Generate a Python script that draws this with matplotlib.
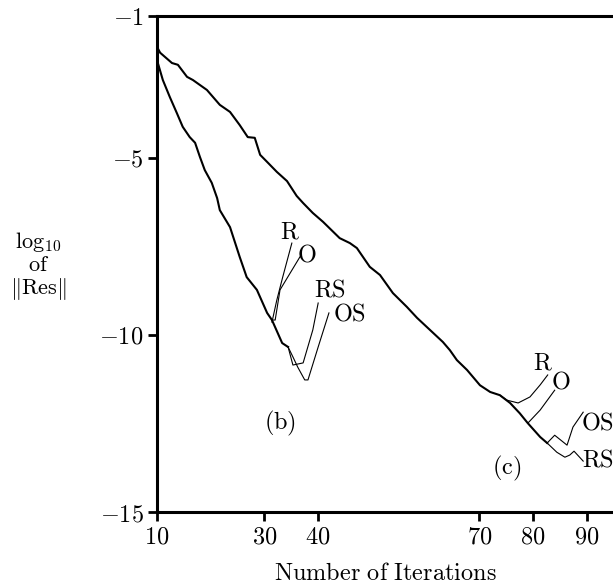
import matplotlib
matplotlib.use('Agg')
import matplotlib.pyplot as plt

plt.rcParams['mathtext.fontset'] = 'cm'
plt.rcParams['font.family'] = 'serif'

# slow curve (c): iterations vs log10 residual
it_slow = [10, 10.6, 12.8, 13.9, 15.6, 16.7, 19.3, 21.7, 23.6, 25.4, 26.9, 28.2, 29.2,
           30.5, 32.3, 34.2, 36.0, 37.2, 39.0, 40.9, 44.0, 45.9, 47.2, 49.6, 51.5, 53.9,
           56.5, 58.4, 60.8, 63.2, 64.5, 65.8, 67.7, 70.1, 72.0, 73.8, 75.7, 77.5, 79.0,
           81.3, 82.6]
res_slow = [-1.87, -2.04, -2.33, -2.38, -2.72, -2.81, -3.09, -3.51, -3.71, -4.08, -4.42,
            -4.44, -4.92, -5.12, -5.40, -5.66, -6.08, -6.28, -6.56, -6.81, -7.27, -7.41,
            -7.55, -8.08, -8.31, -8.82, -9.21, -9.52, -9.86, -10.20, -10.43, -10.71,
            -10.99, -11.42, -11.61, -11.70, -11.92, -12.21, -12.49, -12.88, -13.05]

# fast curve (b)
it_fast = [10, 11.1, 12.4, 13.7, 14.8, 16.1, 17.1, 18.0, 18.9, 20.2, 21.2, 21.7, 23.6,
           25.4, 26.7, 28.6, 30.5, 31.4, 33.3, 34.4]
res_fast = [-2.24, -2.81, -3.29, -3.74, -4.13, -4.42, -4.58, -4.98, -5.35, -5.71, -6.14,
            -6.48, -6.96, -7.80, -8.37, -8.73, -9.38, -9.58, -10.23, -10.34]

# restart branches for (b)
b_branches = {
    'R':  ([31.4, 32.3, 33.4, 35.1], [-9.64, -9.02, -8.37, -7.41]),
    'O':  ([31.4, 32.0, 32.9, 36.6], [-9.58, -9.58, -8.73, -7.80]),
    'RS': ([34.4, 35.3, 37.2, 39.0, 40.0], [-10.34, -10.85, -10.79, -9.86, -9.10]),
    'OS': ([34.4, 35.3, 36.2, 37.5, 38.1, 40.0, 42.0], [-10.34, -10.62, -10.91, -11.27, -11.27, -10.34, -9.38]),
}
# restart branches for (c)
c_branches = {
    'R':  ([73.8, 75.1, 77.2, 79.4, 81.3, 82.7], [-11.70, -11.84, -11.92, -11.75, -11.41, -11.13]),
    'O':  ([79.0, 81.3, 84.0], [-12.49, -12.12, -11.56]),
    'RS': ([82.6, 84.4, 85.9, 86.8, 87.6, 89.3], [-13.05, -13.31, -13.45, -13.39, -13.28, -13.56]),
    'OS': ([82.6, 84.0, 86.3, 87.4, 89.3], [-13.05, -12.83, -13.11, -12.60, -12.18]),
}
b_labels = {'R': (34.8, -7.1), 'O': (37.9, -7.75), 'RS': (42.2, -8.73), 'OS': (45.9, -9.41)}
c_labels = {'R': (81.8, -10.79), 'O': (85.2, -11.33), 'OS': (92.0, -12.49), 'RS': (92.1, -13.53)}

xticks = [10, 30, 40, 70, 80, 90]
yticks = [-1, -5, -10, -15]

fig = plt.figure(figsize=(6.13, 5.88), dpi=100)
ax = fig.add_axes([0.256, 0.129, 0.744, 0.844])

ax.plot(it_slow, res_slow, color='black', lw=1.5)
ax.plot(it_fast, res_fast, color='black', lw=1.5)
for name, (xs, ys) in b_branches.items():
    ax.plot(xs, ys, color='black', lw=0.8)
for name, (xs, ys) in c_branches.items():
    ax.plot(xs, ys, color='black', lw=0.8)

for name, (x, y) in b_labels.items():
    ax.text(x, y, r'$\mathrm{%s}$' % name, fontsize=17.5, ha='center', va='center')
for name, (x, y) in c_labels.items():
    ax.text(x, y, r'$\mathrm{%s}$' % name, fontsize=17.5, ha='center', va='center')
ax.text(32.9, -12.49, r'$\mathrm{(b)}$', fontsize=17.5, ha='center', va='center')
ax.text(75.1, -13.76, r'$\mathrm{(c)}$', fontsize=17.5, ha='center', va='center')

ax.set_xlim(10, 94.85)
ax.set_ylim(-15, -1)
ax.spines['right'].set_visible(False)
for s in ['left', 'top', 'bottom']:
    ax.spines[s].set_linewidth(2.2)

ax.set_xticks(xticks)
ax.set_xticklabels([r'$%d$' % t for t in xticks], fontsize=17.5)
ax.set_yticks(yticks)
ax.set_yticklabels([r'$%d$' % t for t in yticks], fontsize=17.5)
ax.tick_params(direction='out', length=6.5, width=2, pad=3)

ax.set_xlabel(r'$\mathrm{Number\ of\ Iterations}$', fontsize=17.5, labelpad=10)

fig.text(0.063, 0.589, r'$\log_{10}$', fontsize=16, ha='center', va='center')
fig.text(0.063, 0.549, r'$\mathrm{of}$', fontsize=16, ha='center', va='center')
fig.text(0.063, 0.509, r'$\|\mathrm{Res}\|$', fontsize=16, ha='center', va='center')

fig.savefig('out.png', dpi=100)
